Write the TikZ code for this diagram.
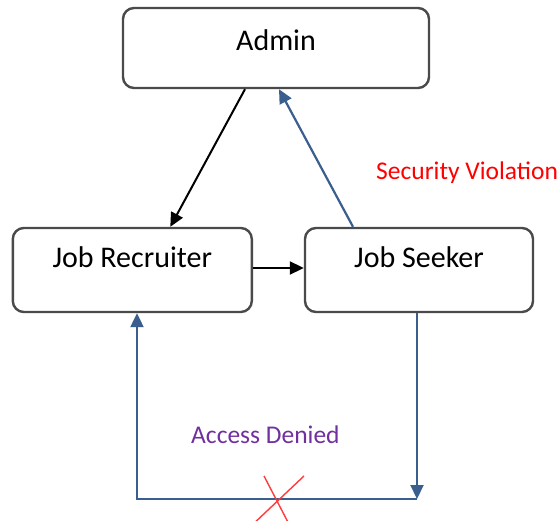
\documentclass[tikz,border=0pt]{standalone}
\usepackage{fontspec}
\setmainfont{Carlito}
\usetikzlibrary{arrows.meta}
\definecolor{linkblue}{HTML}{3A5F8F}
\definecolor{boxedge}{HTML}{4A4A4A}
\definecolor{violet}{HTML}{7030A0}
\definecolor{crossred}{HTML}{FF3B3B}
\tikzset{
  actor/.style={draw=boxedge, line width=2.4pt, rounded corners=11pt,
    fill=white, inner sep=0pt, text height=22pt, text depth=16pt,
    font=\fontsize{30}{36}\selectfont},
  lowactor/.style={actor, text depth=26pt},
  flow/.style={line width=2pt, -{Triangle[length=14pt,width=13pt]}},
  blueflow/.style={flow, draw=linkblue, line width=2.2pt},
  note/.style={inner sep=0pt, font=\fontsize{25.5}{30}\selectfont}
}
\begin{document}
\begin{tikzpicture}[x=1pt, y=-1pt]
  \clip (0,0) rectangle (560,521);
  \fill[white] (0,0) rectangle (560,521);

  % the three parties
  \node[actor, minimum width=306pt, minimum height=80pt] (admin) at (276,48) {Admin};
  \node[lowactor, minimum width=239pt, minimum height=84pt] (recruiter) at (132.3,270) {Job Recruiter};
  \node[lowactor, minimum width=228pt, minimum height=84pt] (seeker) at (419,270) {Job Seeker};

  % corners of the rejected return path
  \coordinate (rightturn) at (417,499);
  \coordinate (leftturn) at (137,499);

  % normal flows
  \draw[flow] ([xshift=-31pt]admin.south) -- ([xshift=38pt]recruiter.north);
  \draw[flow] ([yshift=2pt]recruiter.east) -- ([yshift=2pt]seeker.west);

  % reporting and the blocked path
  \draw[blueflow] ([xshift=-66pt]seeker.north) -- ([xshift=3pt]admin.south);
  \draw[blueflow] ([xshift=-2pt]seeker.south) -- (rightturn);
  \draw[blueflow] (rightturn) -- (leftturn) -- ([xshift=4.7pt]recruiter.south);

  % cross over the blocked path
  \draw[crossred, line width=1.4pt] (264,476) -- (291,528);
  \draw[crossred, line width=1.4pt] (304,476) -- (249,528);

  % labels
  \node[note, text=red, anchor=base west] (secviol) at (376,180) {Security Violation};
  \node[note, text=violet, anchor=base west] (denied) at (191,443) {Access Denied};
\end{tikzpicture}
\end{document}
